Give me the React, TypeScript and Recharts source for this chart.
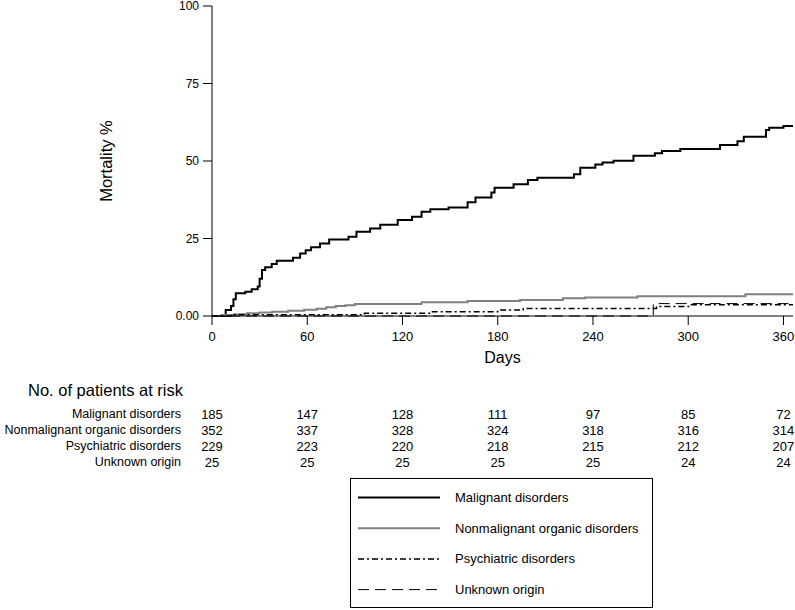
import { LineChart, Line, XAxis, YAxis, Label, Legend } from "recharts";

// cumulative mortality (%) by day
const malignant = [
  { day: 0, pct: 0 }, { day: 8.6, pct: 1.9 }, { day: 12, pct: 3.2 }, { day: 13.5, pct: 5.4 },
  { day: 15, pct: 7.3 }, { day: 21, pct: 7.8 }, { day: 25, pct: 8.6 }, { day: 28.8, pct: 9.5 },
  { day: 30, pct: 12 }, { day: 31.5, pct: 14.8 }, { day: 33.5, pct: 15.7 }, { day: 37.6, pct: 16.8 },
  { day: 40.8, pct: 17.8 }, { day: 51, pct: 18.8 }, { day: 55.5, pct: 20.2 }, { day: 59, pct: 21.2 },
  { day: 62.4, pct: 22.2 }, { day: 68, pct: 23.4 }, { day: 73.8, pct: 24.7 }, { day: 86, pct: 25.6 },
  { day: 91, pct: 27.2 }, { day: 99.6, pct: 28.2 }, { day: 106, pct: 29.4 }, { day: 117, pct: 31.0 },
  { day: 126, pct: 32.0 }, { day: 132, pct: 33.6 }, { day: 137.5, pct: 34.4 }, { day: 149, pct: 35.0 },
  { day: 161, pct: 36.7 }, { day: 166, pct: 38.2 }, { day: 176, pct: 39.8 }, { day: 178, pct: 41.4 },
  { day: 190, pct: 42.5 }, { day: 199, pct: 43.9 }, { day: 205, pct: 44.6 }, { day: 228, pct: 45.7 },
  { day: 232, pct: 47.8 }, { day: 241.5, pct: 48.9 }, { day: 246, pct: 49.5 }, { day: 253, pct: 50.1 },
  { day: 265.5, pct: 51.7 }, { day: 279, pct: 52.5 }, { day: 283.5, pct: 53.2 }, { day: 295, pct: 53.9 },
  { day: 320, pct: 55.2 }, { day: 331, pct: 56.4 }, { day: 335, pct: 57.8 }, { day: 349, pct: 60.0 },
  { day: 351, pct: 60.7 }, { day: 360, pct: 61.3 }, { day: 366, pct: 61.3 },
];

const nonmalignant = [
  { day: 0, pct: 0 }, { day: 6, pct: 0.3 }, { day: 14, pct: 0.6 }, { day: 22, pct: 0.9 },
  { day: 30, pct: 1.1 }, { day: 38, pct: 1.4 }, { day: 48, pct: 1.7 }, { day: 58, pct: 2.0 },
  { day: 66, pct: 2.3 }, { day: 72, pct: 2.8 }, { day: 78, pct: 3.2 }, { day: 84, pct: 3.5 },
  { day: 90, pct: 3.9 }, { day: 132, pct: 4.4 }, { day: 161, pct: 4.8 }, { day: 194, pct: 5.2 },
  { day: 221, pct: 5.7 }, { day: 235, pct: 6.0 }, { day: 268, pct: 6.4 }, { day: 336, pct: 7.0 },
  { day: 366, pct: 7.0 },
];

const psychiatric = [
  { day: 0, pct: 0 }, { day: 14, pct: 0.4 }, { day: 96, pct: 0.9 }, { day: 138, pct: 1.4 },
  { day: 180, pct: 1.9 }, { day: 196, pct: 2.4 }, { day: 280, pct: 3.1 }, { day: 302, pct: 3.6 },
  { day: 366, pct: 3.6 },
];

const unknownOrigin = [
  { day: 0, pct: 0 }, { day: 278, pct: 4.0 }, { day: 366, pct: 4.0 },
];

// patients at risk
const riskDays = [0, 60, 120, 180, 240, 300, 360];
const malignantRisk = [185, 147, 128, 111, 97, 85, 72];
const nonmalignantRisk = [352, 337, 328, 324, 318, 316, 314];
const psychiatricRisk = [229, 223, 220, 218, 215, 212, 207];
const unknownRisk = [25, 25, 25, 25, 25, 24, 24];

const yTicks = [0, 25, 50, 75, 100];

const series = [
  { name: "Malignant disorders", data: malignant, risk: malignantRisk, stroke: "#000", width: 2, dash: undefined },
  { name: "Nonmalignant organic disorders", data: nonmalignant, risk: nonmalignantRisk, stroke: "#808080", width: 2, dash: undefined },
  { name: "Psychiatric disorders", data: psychiatric, risk: psychiatricRisk, stroke: "#000", width: 1.5, dash: "6 3 2 3" },
  { name: "Unknown origin", data: unknownOrigin, risk: unknownRisk, stroke: "#000", width: 1, dash: "11 6" },
];

const FONT = "'Liberation Sans', Arial, sans-serif";

const LegendBox = () => (
  <svg width={304} height={131}>
    <rect x={0.5} y={0.5} width={302} height={129} fill="#fff" stroke="#000" />
    {series.map((s, i) => {
      const y = 19.5 + i * 30.7;
      return (
        <g key={s.name}>
          <line x1={8} x2={90} y1={y} y2={y} stroke={s.stroke} strokeWidth={s.width} strokeDasharray={s.dash} />
          <text x={105} y={y + 4.5} fontSize={13} fill="#000" fontFamily={FONT}>
            {s.name}
          </text>
        </g>
      );
    })}
  </svg>
);

export default function App() {
  return (
    <div style={{ position: "absolute", left: 0, top: 0, width: 795, height: 610, fontFamily: FONT, background: "#fff" }}>
      <LineChart width={795} height={610} margin={{ top: 6, right: 2, bottom: 140, left: 0 }}>
        <XAxis
          dataKey="day"
          type="number"
          domain={[0, 366]}
          ticks={riskDays}
          interval={0}
          allowDataOverflow
          height={90}
          stroke="#000"
          tickSize={9}
          tickMargin={7}
          tick={{ fontSize: 13, fill: "#000" }}
        >
          <Label value="Days" position="insideTop" offset={36} fontSize={16} fill="#000" />
        </XAxis>
        {series.map((s, i) => (
          <XAxis
            key={s.name}
            xAxisId={`risk${i}`}
            dataKey="day"
            type="number"
            domain={[0, 366]}
            allowDataOverflow
            ticks={riskDays}
            interval={0}
            height={16}
            axisLine={false}
            tickLine={false}
            tickSize={0}
            tickMargin={4}
            tick={{ fontSize: 13, fill: "#000" }}
            tickFormatter={(v: number) => String(s.risk[riskDays.indexOf(v)])}
          >
            <Label value={s.name} position="left" offset={31} fontSize={12.5} fill="#000" />
          </XAxis>
        ))}
        <YAxis
          type="number"
          domain={[0, 100]}
          ticks={yTicks}
          interval={0}
          width={212}
          stroke="#000"
          tickSize={9}
          tickMargin={4}
          tick={{ fontSize: 12, fill: "#000" }}
          tickFormatter={(v: number) => (v === 0 ? "0.00" : String(v))}
        >
          <Label
            value="Mortality %"
            angle={-90}
            position="insideLeft"
            offset={106}
            fontSize={16.5}
            fill="#000"
            style={{ textAnchor: "middle" }}
          />
        </YAxis>
        {/* invisible carriers so each at-risk row axis has a scale */}
        {series.map((s, i) => (
          <Line
            key={`carrier${i}`}
            xAxisId={`risk${i}`}
            data={riskDays.map((d) => ({ day: d, pct: 0 }))}
            dataKey="pct"
            stroke="none"
            dot={false}
            activeDot={false}
            legendType="none"
            isAnimationActive={false}
          />
        ))}
        {series.map((s) => (
          <Line
            key={s.name}
            data={s.data}
            dataKey="pct"
            name={s.name}
            type="stepAfter"
            stroke={s.stroke}
            strokeWidth={s.width}
            strokeDasharray={s.dash}
            dot={false}
            activeDot={false}
            isAnimationActive={false}
          />
        ))}
        <Legend
          layout="vertical"
          align="center"
          verticalAlign="middle"
          content={() => <LegendBox />}
          wrapperStyle={{ position: "absolute", left: 350, top: 478, width: 304, height: 131 }}
        />
      </LineChart>
      <div
        style={{
          position: "absolute",
          left: 28,
          top: 380,
          fontSize: 16.5,
          lineHeight: "20px",
          color: "#000",
          whiteSpace: "nowrap",
        }}
      >
        No. of patients at risk
      </div>
    </div>
  );
}
